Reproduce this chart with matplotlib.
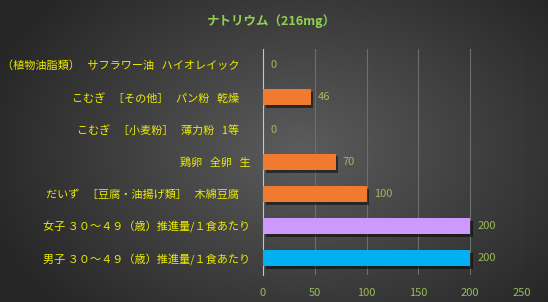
import numpy as np
import matplotlib
matplotlib.use("Agg")
import matplotlib.pyplot as plt
import matplotlib.patheffects as pe

plt.rcParams['font.family'] = ['Noto Sans CJK JP', 'DejaVu Sans']

categories = [
    "（植物油脂類）   サフラワー油   ハイオレイック　",
    "こむぎ   ［その他］   パン粉   乾燥　",
    "こむぎ   ［小麦粉］   薄力粉   1等　",
    "鶏卵   全卵   生",
    "だいず   ［豆腐・油揚げ類］   木綿豆腐　",
    "女子 ３０～４９（歳）推進量/１食あたり",
    "男子 ３０～４９（歳）推進量/１食あたり",
]
values = [0, 46, 0, 70, 100, 200, 200]
colors = ["#F07A30", "#F07A30", "#F07A30", "#F07A30", "#F07A30", "#CC99FF", "#00B0F0"]
title = "ナトリウム（216mg）"
xticks = [0, 50, 100, 150, 200, 250]

W, H = 548, 302
fig = plt.figure(figsize=(W / 100, H / 100), dpi=100)

# radial gradient background
bg = fig.add_axes([0, 0, 1, 1], zorder=-10)
yy, xx = np.mgrid[0:H, 0:W]
cx, cy = 300, 150
r = np.sqrt(((xx - cx) / 330.0) ** 2 + ((yy - cy) / 230.0) ** 2)
r = np.clip(r, 0, 1)
inner = np.array([0x5c, 0x5c, 0x5c]) / 255
outer = np.array([0x26, 0x26, 0x26]) / 255
img = inner[None, None, :] * (1 - r[..., None]) + outer[None, None, :] * r[..., None]
bg.imshow(img, aspect='auto', extent=[0, 1, 0, 1])
bg.axis('off')

ax = fig.add_axes([263 / W, 1 - 274.5 / H, 259 / W, 225.5 / H])
ax.set_facecolor('none')
ypos = np.arange(len(categories))
bars = ax.barh(ypos, values, height=0.5, color=colors, zorder=3)
for b in bars:
    b.set_path_effects([pe.SimplePatchShadow(offset=(2, -2), shadow_rgbFace='black', alpha=0.5), pe.Normal()])

ax.set_ylim(len(categories) - 0.5, -0.5)
ax.set_xlim(0, 250)
ax.set_yticks(ypos)
ax.set_yticklabels(categories, color='#EDED00', fontsize=8)
ax.set_xticks(xticks)
ax.set_xticklabels([str(t) for t in xticks], color='#9BBB59', fontsize=8)
ax.tick_params(axis='y', length=0, pad=9)
ax.tick_params(axis='x', length=0, pad=10)
ax.xaxis.grid(True, color='#6E6E6E', linewidth=0.8, zorder=0)
ax.set_axisbelow(True)
for s in ['top', 'right', 'bottom']:
    ax.spines[s].set_visible(False)
ax.spines['left'].set_color('#B8C8D8')
ax.spines['left'].set_linewidth(0.8)

for y, v in zip(ypos, values):
    ax.text(v + 7, y, str(v), va='center', ha='left', color='#9BBB59', fontsize=8)

fig.text(271 / W, 1 - 21 / H, title, ha='center', va='center', color='#92D050',
         fontsize=9, fontweight='bold')

fig.savefig('out.png', dpi=100)
